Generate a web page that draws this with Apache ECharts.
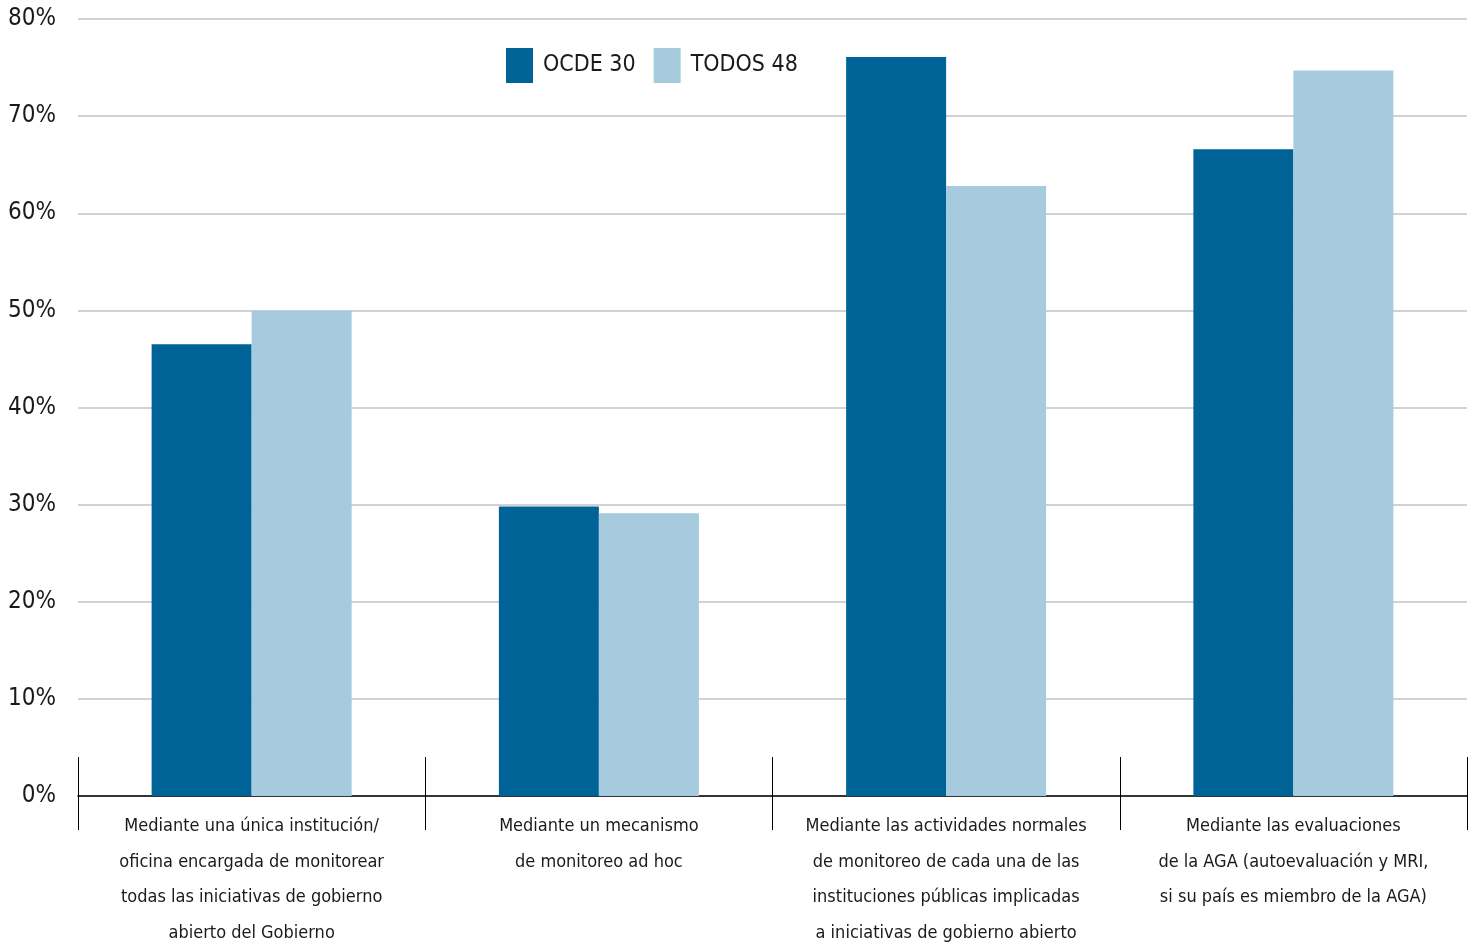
<!DOCTYPE html>
<html>
<head>
<meta charset="utf-8">
<script src="https://cdn.jsdelivr.net/npm/echarts@6/dist/echarts.min.js"></script>
<style>
html,body{margin:0;padding:0;background:#fff;}
#chart{width:1468px;height:952px;}
</style>
</head>
<body>
<div id="chart"></div>
<script>
const categories = [
  'Mediante una única institución/\noficina encargada de monitorear\ntodas las iniciativas de gobierno\nabierto del Gobierno',
  'Mediante un mecanismo\nde monitoreo ad hoc',
  'Mediante las actividades normales\nde monitoreo de cada una de las\ninstituciones públicas implicadas\na iniciativas de gobierno abierto',
  'Mediante las evaluaciones\nde la AGA (autoevaluación y MRI,\nsi su país es miembro de la AGA)'
];
const seriesNames = ['OCDE 30', 'TODOS 48'];
const ocde30 = [46.5, 29.8, 76.1, 66.6];
const todos48 = [50.0, 29.1, 62.8, 74.7];
const yTicks = { min: 0, max: 80, interval: 10 };

const FONT = '"DejaVu Sans Condensed", "Liberation Sans Narrow", "Noto Sans", sans-serif';
const chart = echarts.init(document.getElementById('chart'), null, { renderer: 'canvas' });
chart.setOption({
  animation: false,
  backgroundColor: '#ffffff',
  textStyle: { fontFamily: FONT },
  legend: {
    left: 501, top: 43,
    itemWidth: 27, itemHeight: 35, itemGap: 18,
    icon: 'rect',
    textStyle: { fontFamily: FONT, fontSize: 23, color: '#1a1a1a', padding: [0, 0, 0, 5] },
    data: seriesNames
  },
  grid: { left: 78, right: 1, top: 19, bottom: 156, containLabel: false },
  xAxis: [
    {
      type: 'category', data: categories, position: 'bottom',
      axisLine: { show: true, lineStyle: { color: '#000', width: 1.5 } },
      axisTick: { show: true, length: 34, lineStyle: { color: '#000', width: 1 } },
      axisLabel: {
        interval: 0, margin: 13, fontFamily: FONT, fontSize: 18, lineHeight: 35.5,
        color: '#1a1a1a', align: 'center'
      },
      splitLine: { show: false }
    },
    {
      type: 'category', data: categories, position: 'bottom', gridIndex: 0,
      axisLine: { show: false },
      axisTick: { show: true, inside: true, length: 39, lineStyle: { color: '#000', width: 1 } },
      axisLabel: { show: false },
      splitLine: { show: false }
    }
  ],
  yAxis: {
    type: 'value', min: yTicks.min, max: yTicks.max, interval: yTicks.interval,
    axisLine: { show: false }, axisTick: { show: false },
    axisLabel: { formatter: '{value}%', margin: 22, fontFamily: FONT, fontSize: 24, color: '#1a1a1a' },
    splitLine: { show: true, lineStyle: { color: '#d2d2d2', width: 2 } }
  },
  series: [
    { name: seriesNames[0], type: 'bar', xAxisIndex: 0, data: ocde30, barWidth: 100, barGap: '0%',
      itemStyle: { color: '#006398' } },
    { name: seriesNames[1], type: 'bar', xAxisIndex: 0, data: todos48, barWidth: 100, barGap: '0%',
      itemStyle: { color: '#A6CADE' } }
  ]
});
</script>
</body>
</html>
